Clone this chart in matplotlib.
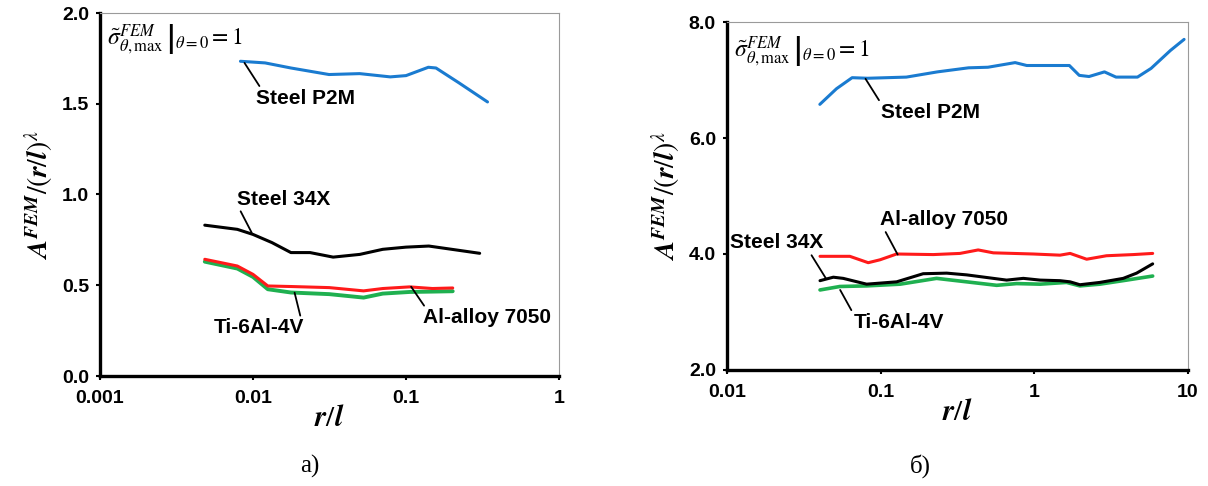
import matplotlib
matplotlib.use("Agg")
import matplotlib.pyplot as plt
from matplotlib.ticker import FixedLocator, FixedFormatter, NullLocator

plt.rcParams["mathtext.fontset"] = "stix"
plt.rcParams["font.family"] = ["Liberation Sans", "DejaVu Sans"]

# ---- panel (a): r/l from 0.001 to 1 ----
a_p2m_x = [0.00828, 0.0120, 0.0177, 0.0314, 0.0498, 0.0789, 0.100, 0.140, 0.157, 0.222, 0.341]
a_p2m_y = [1.734, 1.725, 1.697, 1.661, 1.666, 1.648, 1.655, 1.701, 1.697, 1.615, 1.510]

a_34x_x = [0.00484, 0.0079, 0.0100, 0.0133, 0.0177, 0.0236, 0.0334, 0.0499, 0.0705, 0.100, 0.141, 0.199, 0.303]
a_34x_y = [0.831, 0.808, 0.780, 0.735, 0.680, 0.680, 0.655, 0.670, 0.698, 0.710, 0.716, 0.698, 0.676]

a_al_x = [0.00484, 0.0079, 0.0100, 0.0125, 0.0177, 0.0315, 0.0528, 0.0705, 0.1055, 0.149, 0.202]
a_al_y = [0.643, 0.606, 0.560, 0.496, 0.493, 0.487, 0.469, 0.482, 0.491, 0.482, 0.485]

a_ti_x = [0.00484, 0.0079, 0.0100, 0.0125, 0.0177, 0.0315, 0.0528, 0.0705, 0.1055, 0.149, 0.202]
a_ti_y = [0.630, 0.592, 0.546, 0.478, 0.460, 0.451, 0.432, 0.454, 0.463, 0.465, 0.467]

# ---- panel (b): r/l from 0.01 to 10 ----
b_p2m_x = [0.0402, 0.0516, 0.0652, 0.0822, 0.147, 0.234, 0.373, 0.499, 0.750, 0.893, 1.19, 1.69,
           1.96, 2.27, 2.86, 3.40, 4.69, 5.75, 7.69, 9.43]
b_p2m_y = [6.58, 6.85, 7.04, 7.03, 7.05, 7.14, 7.21, 7.22, 7.30, 7.25, 7.25, 7.25,
           7.08, 7.06, 7.14, 7.05, 7.05, 7.20, 7.51, 7.70]

b_al_x = [0.0403, 0.063, 0.083, 0.099, 0.127, 0.22, 0.328, 0.431, 0.541, 0.984, 1.47, 1.71,
          2.19, 2.95, 4.40, 5.89]
b_al_y = [3.96, 3.96, 3.85, 3.90, 4.00, 3.99, 4.01, 4.07, 4.02, 4.00, 3.98, 4.01,
          3.91, 3.97, 3.99, 4.01]

b_34x_x = [0.0403, 0.0492, 0.057, 0.081, 0.127, 0.189, 0.269, 0.363, 0.66, 0.848, 1.09, 1.47,
           1.71, 1.98, 2.67, 3.79, 4.63, 5.89]
b_34x_y = [3.54, 3.60, 3.58, 3.48, 3.52, 3.66, 3.67, 3.64, 3.55, 3.58, 3.55, 3.54,
           3.52, 3.47, 3.51, 3.58, 3.67, 3.83]

b_ti_x = [0.0403, 0.0543, 0.081, 0.134, 0.231, 0.363, 0.569, 0.767, 1.09, 1.62, 1.98, 2.67, 3.99, 5.89]
b_ti_y = [3.38, 3.44, 3.45, 3.48, 3.58, 3.52, 3.46, 3.49, 3.48, 3.51, 3.45, 3.48, 3.55, 3.62]

a_xticks = [0.001, 0.01, 0.1, 1]
a_xlabels = ["0.001", "0.01", "0.1", "1"]
a_yticks = [0.0, 0.5, 1.0, 1.5, 2.0]
b_xticks = [0.01, 0.1, 1, 10]
b_xlabels = ["0.01", "0.1", "1", "10"]
b_yticks = [2.0, 4.0, 6.0, 8.0]

BLUE = "#1a7bd0"
RED = "#ff1a1a"
GREEN = "#1fb050"
BLACK = "#000000"

fig = plt.figure(figsize=(12.08, 4.86), dpi=100)
ax1 = fig.add_axes([100 / 1208, 1 - 376 / 486, 459 / 1208, 363 / 486])
ax2 = fig.add_axes([727 / 1208, 1 - 370 / 486, 461 / 1208, 348 / 486])

ylab = r"$\mathbfit{A}^{\mathbfit{FEM}}/(\mathbfit{r}/\mathbfit{l})^{\lambda}$"
xlab = r"$\mathbfit{r}/\mathbfit{l}$"
formula = r"$\left.\tilde{\sigma}^{FEM}_{\theta,\mathrm{max}}\,\right|_{\theta=0} = 1$"


def style(ax, xticks, xlabels, yticks, ylim, xlim):
    ax.set_xscale("log")
    ax.set_xlim(*xlim)
    ax.set_ylim(*ylim)
    ax.xaxis.set_major_locator(FixedLocator(xticks))
    ax.xaxis.set_major_formatter(FixedFormatter(xlabels))
    ax.xaxis.set_minor_locator(NullLocator())
    ax.set_yticks(yticks)
    ax.set_yticklabels([f"{v:.1f}" for v in yticks])
    for s in ("left", "bottom"):
        ax.spines[s].set_linewidth(2.4)
        ax.spines[s].set_color("black")
    for s in ("top", "right"):
        ax.spines[s].set_linewidth(0.8)
        ax.spines[s].set_color("#9a9a9a")
    ax.tick_params(axis="both", direction="out", length=3, width=1.5,
                   labelsize=14)
    ax.tick_params(axis="y", pad=5)
    ax.tick_params(axis="x", pad=7)
    for lab in ax.get_xticklabels() + ax.get_yticklabels():
        lab.set_fontweight("bold")
    ax.set_ylabel(ylab, fontsize=20, labelpad=4)
    ax.set_xlabel(xlab, fontsize=21, labelpad=-2)


LW = 2.2
line_kw = dict(solid_joinstyle="round", solid_capstyle="round")

# panel (a)
style(ax1, a_xticks, a_xlabels, a_yticks, (0.0, 2.0), (0.001, 1))
ax1.plot(a_34x_x, a_34x_y, color=BLACK, lw=LW, **line_kw)
ax1.plot(a_ti_x, a_ti_y, color=GREEN, lw=LW + 0.6, **line_kw)
ax1.plot(a_al_x, a_al_y, color=RED, lw=LW, **line_kw)
ax1.plot(a_p2m_x, a_p2m_y, color=BLUE, lw=LW, **line_kw)

ann = dict(fontsize=15, fontweight="bold", va="center", ha="left")
arrow = dict(arrowstyle="-", color="black", lw=1.3, shrinkA=0, shrinkB=0)
ax1.annotate("Steel P2M", xy=(0.0088, 1.725), xytext=(0.0105, 1.53),
             arrowprops=dict(arrow, relpos=(0.05, 1.0)), **ann)
ax1.annotate("Steel 34X", xy=(0.0098, 0.79), xytext=(0.0079, 0.975),
             arrowprops=dict(arrow, relpos=(0.02, 0.0)), **ann)
ax1.annotate("Ti-6Al-4V", xy=(0.0187, 0.459), xytext=(0.0055, 0.265),
             arrowprops=dict(arrow, relpos=(0.97, 1.0)), **ann)
ax1.annotate("Al-alloy 7050", xy=(0.108, 0.492), xytext=(0.130, 0.32),
             arrowprops=dict(arrow, relpos=(0.02, 1.0)), **ann)
ax1.text(0.015, 0.925, formula, transform=ax1.transAxes, fontsize=17,
         va="center", ha="left")

# panel (b)
style(ax2, b_xticks, b_xlabels, b_yticks, (2.0, 8.0), (0.01, 10))
ax2.plot(b_ti_x, b_ti_y, color=GREEN, lw=LW + 0.4, **line_kw)
ax2.plot(b_34x_x, b_34x_y, color=BLACK, lw=LW, **line_kw)
ax2.plot(b_al_x, b_al_y, color=RED, lw=LW, **line_kw)
ax2.plot(b_p2m_x, b_p2m_y, color=BLUE, lw=LW, **line_kw)

ax2.annotate("Steel P2M", xy=(0.0797, 7.02), xytext=(0.101, 6.44),
             arrowprops=dict(arrow, relpos=(0.0, 0.95)), **ann)
ax2.annotate("Al-alloy 7050", xy=(0.129, 3.99), xytext=(0.0995, 4.59),
             arrowprops=dict(arrow, relpos=(0.03, 0.0)), **ann)
ax2.annotate("Steel 34X", xy=(0.0440, 3.58), xytext=(0.0104, 4.19),
             arrowprops=dict(arrow, relpos=(0.86, 0.0)), **ann)
ax2.annotate("Ti-6Al-4V", xy=(0.0545, 3.38), xytext=(0.067, 2.82),
             arrowprops=dict(arrow, relpos=(0.0, 0.9)), **ann)
ax2.text(0.015, 0.915, formula, transform=ax2.transAxes, fontsize=17,
         va="center", ha="left")

# panel captions
fig.text(310 / 1208, 1 - 466 / 486, "а)", fontsize=18, ha="center", va="center",
         family=["Liberation Serif", "DejaVu Serif"])
fig.text(920 / 1208, 1 - 466 / 486, "б)", fontsize=18, ha="center", va="center",
         family=["Liberation Serif", "DejaVu Serif"])

fig.savefig("out.png", dpi=100)
